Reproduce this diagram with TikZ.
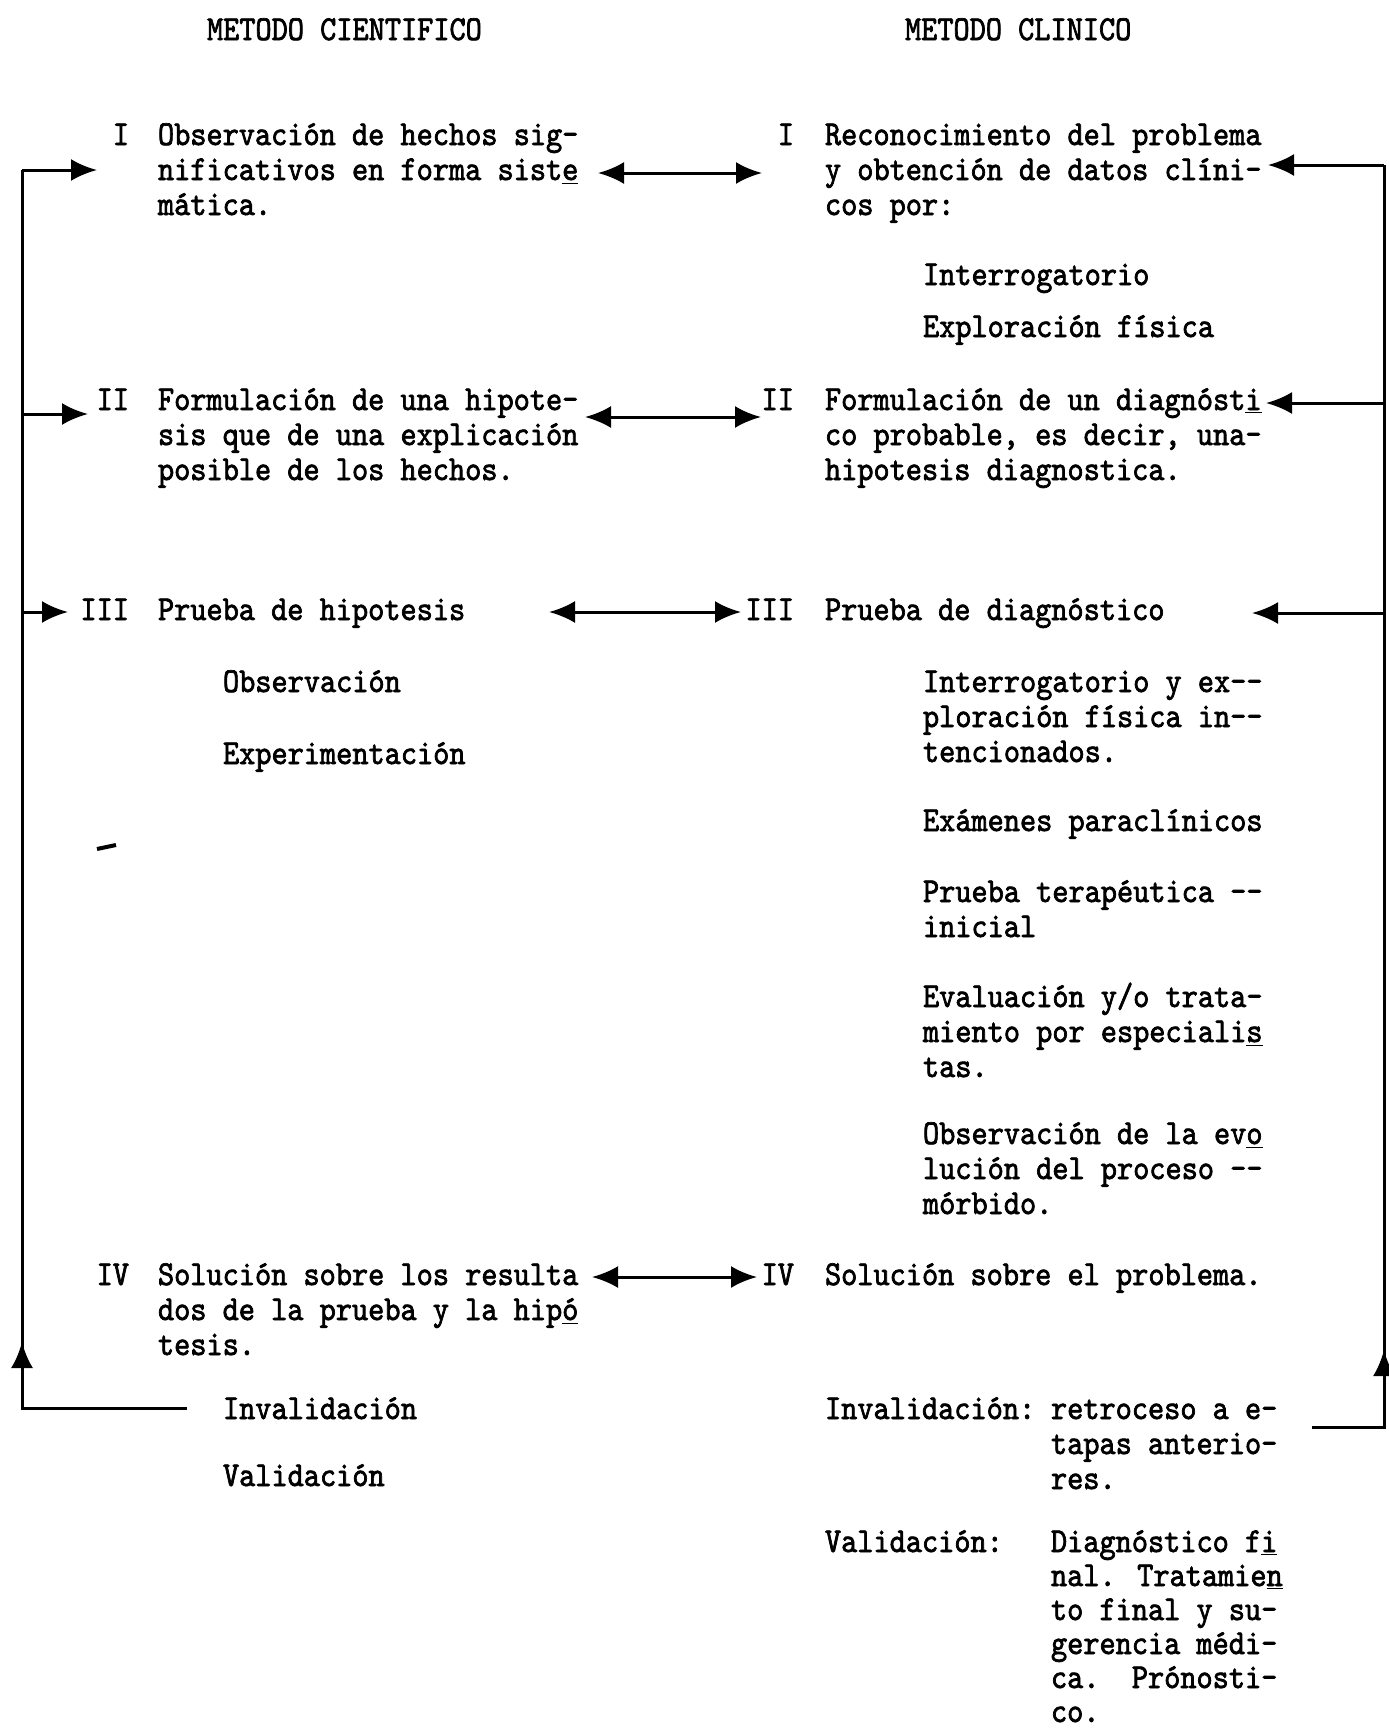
\documentclass[tikz,border=0pt]{standalone}
\usepackage{fontspec}
\usetikzlibrary{arrows.meta}
\newfontfamily\tw{lmmono10-regular.otf}[FakeStretch=0.88,FakeBold=2]
\newcommand\blk[1]{\begin{tabular}[t]{@{}l@{}}#1\end{tabular}}
\newcommand\tu[1]{\underline{#1}}
\begin{document}
\begin{tikzpicture}[x=0.5pt,y=-0.5pt,
 txt/.style={anchor=base west,inner sep=0pt,outer sep=0pt,font=\fontsize{17.5pt}{17.5pt}\tw},
 txts/.style={txt,font=\fontsize{17.5pt}{17pt}\tw},
 num/.style={anchor=base east,inner sep=0pt,outer sep=0pt,font=\fontsize{17.5pt}{17.5pt}\tw},
 ln/.style={line width=1.5pt},
 arr/.style={ln,-{Latex[length=13pt,width=11pt]}},
 darr/.style={ln,{Latex[length=13pt,width=11pt]}-{Latex[length=13pt,width=11pt]}}]
\fill[white] (0,0) rectangle (1388,1730);
\useasboundingbox (0,0) rectangle (1388,1730);

% titles
\node[txt] (t1) at (207,40) {METODO CIENTIFICO};
\node[txt] (t2) at (905,40) {METODO CLINICO};

% left column
\node[num] (nL1) at (129,145) {I};
\node[txt] (L1) at (158,145) {\blk{Observación de hechos sig-\\nificativos en forma sist\tu{e}\\mática.}};
\node[num] (nL2) at (129,410) {II};
\node[txt] (L2) at (158,410) {\blk{Formulación de una hipote-\\sis que de una explicación\\posible de los hechos.}};
\node[num] (nL3) at (129,620) {III};
\node[txt] (L3) at (158,620) {Prueba de hipotesis};
\node[txt] (L3a) at (223,692) {Observación};
\node[txt] (L3b) at (223,764) {Experimentación};
\node[num] (nL4) at (129,1285) {IV};
\node[txt] (L4) at (158,1285) {\blk{Solución sobre los resulta\\dos de la prueba y la hip\tu{ó}\\tesis.}};
\node[txt] (L4a) at (223,1419) {Invalidación};
\node[txt] (L4b) at (223,1486) {Validación};

% right column
\node[num] (nR1) at (794,145) {I};
\node[txt] (R1) at (825,145) {\blk{Reconocimiento del problema\\y obtención de datos clíni-\\cos por:}};
\node[txt] (R1a) at (923,285) {Interrogatorio};
\node[txt] (R1b) at (923,337) {Exploración física};
\node[num] (nR2) at (794,410) {II};
\node[txt] (R2) at (825,410) {\blk{Formulación de un diagnóst\tu{i}\\co probable, es decir, una-\\hipotesis diagnostica.}};
\node[num] (nR3) at (794,620) {III};
\node[txt] (R3) at (825,620) {Prueba de diagnóstico};
\node[txt] (R3a) at (923,692) {\blk{Interrogatorio y ex-{}-\\ploración física in-{}-\\tencionados.}};
\node[txt] (R3b) at (923,831) {Exámenes paraclínicos};
\node[txt] (R3c) at (923,902) {\blk{Prueba terapéutica -{}-\\inicial}};
\node[txt] (R3d) at (923,1007) {\blk{Evaluación y/o trata-\\miento por especiali\tu{s}\\tas.}};
\node[txt] (R3e) at (923,1144) {\blk{Observación de la ev\tu{o}\\lución del proceso -{}-\\mórbido.}};
\node[num] (nR4) at (794,1285) {IV};
\node[txt] (R4) at (825,1285) {Solución sobre el problema.};
\node[txt] (R4a) at (825,1419) {Invalidación:};
\node[txt] (R4b) at (1051,1419) {\blk{retroceso a e-\\tapas anterio-\\res.}};
\node[txt] (R4c) at (825,1552) {Validación:};
\node[txts] (R4d) at (1051,1552) {\blk{Diagnóstico f\tu{i}\\nal. Tratamie\tu{n}\\to final y su-\\gerencia médi-\\ca.\ \ Prónosti-\\co.}};

% left loop
\coordinate (LT) at (22,170);
\coordinate (LTt) at (97,170);
\coordinate (L2j) at (22,414);
\coordinate (L2t) at (88,414);
\coordinate (L3j) at (22,612);
\coordinate (L3t) at (68,612);
\coordinate (LB) at (22,1408);
\coordinate (LBe) at (187,1408);
\coordinate (LUp) at (22,1342);
\draw[ln] (LBe) -- (LB) -- (LT);
\draw[arr] (LT) -- (LTt);
\draw[arr] (L2j) -- (L2t);
\draw[arr] (L3j) -- (L3t);
\draw[arr] (LB) -- (LUp);

% right loop
\coordinate (RT) at (1384,165);
\coordinate (RTt) at (1268,165);
\coordinate (R2j) at (1384,403);
\coordinate (R2t) at (1266,403);
\coordinate (R3j) at (1384,613);
\coordinate (R3t) at (1252,613);
\coordinate (RB) at (1384,1427);
\coordinate (RBe) at (1312,1427);
\coordinate (RUp) at (1384,1350);
\draw[ln] (RBe) -- (RB) -- (RT);
\draw[arr] (RT) -- (RTt);
\draw[arr] (R2j) -- (R2t);
\draw[arr] (R3j) -- (R3t);
\draw[arr] (RB) -- (RUp);

% middle double arrows
\coordinate (m1a) at (598,173); \coordinate (m1b) at (762,173);
\coordinate (m2a) at (585,417); \coordinate (m2b) at (761,417);
\coordinate (m3a) at (549,612); \coordinate (m3b) at (741,612);
\coordinate (m4a) at (592,1277); \coordinate (m4b) at (757,1277);
\draw[darr] (m1a) -- (m1b);
\draw[darr] (m2a) -- (m2b);
\draw[darr] (m3a) -- (m3b);
\draw[darr] (m4a) -- (m4b);

% stray mark
\coordinate (st1) at (97,849); \coordinate (st2) at (116,845);
\draw[line width=2pt] (st1) -- (st2);
\end{tikzpicture}
\end{document}
